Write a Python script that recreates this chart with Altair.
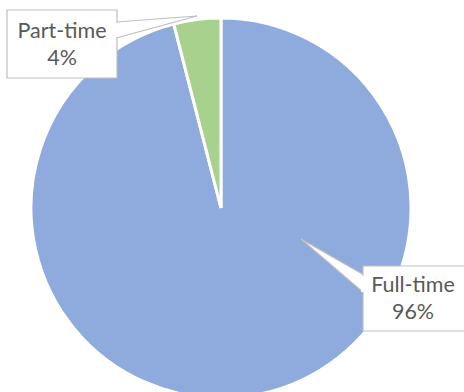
import altair as alt
import pandas as pd

# data
categories = ["Full-time", "Part-time"]
values = [96, 4]
percent_labels = ["96%", "4%"]
colors = ["#8FAADC", "#A9D18E"]

# layout constants (pixels)
W, H = 464, 392
CX, CY, R = 221, 208, 190
boxes = {  # x, x2, y, y2
    "Part-time": (7, 117, 10, 78),
    "Full-time": (363, 470, 266, 331),
}
label_centers = {"Part-time": (62, 45), "Full-time": (413, 299)}
pointers = {  # base x, base y top, base y bottom, tip x, tip y
    "Part-time": (116, 22, 38, 197, 16),
    "Full-time": (364, 275, 293, 301, 239),
}

df = pd.DataFrame({"category": categories, "value": values,
                   "order": list(range(len(categories)))})

xs = alt.Scale(domain=[0, W], range=[0, W])
ys = alt.Scale(domain=[0, H], range=[0, H])

pie = alt.Chart(df).mark_arc(outerRadius=R, stroke="white", strokeWidth=3).encode(
    theta=alt.Theta("value:Q", stack=True),
    color=alt.Color("category:N", scale=alt.Scale(domain=categories, range=colors), legend=None),
    order=alt.Order("order:Q"),
    x=alt.value(CX), y=alt.value(CY),
)

box_rows = []
for c in categories:
    x, x2, y, y2 = boxes[c]
    box_rows.append({"category": c, "x": x, "x2": x2, "y": y, "y2": y2})
box_df = pd.DataFrame(box_rows)

ptr_rows = []
for c in categories:
    bx, by1, by2, tx, ty = pointers[c]
    ptr_rows.append({"category": c, "x": bx, "y": by1, "y2": by2})
    ptr_rows.append({"category": c, "x": tx, "y": ty, "y2": ty})
ptr_df = pd.DataFrame(ptr_rows)

ptr = alt.Chart(ptr_df).mark_area(fill="white", stroke="#BFBFBF", strokeWidth=1.2).encode(
    x=alt.X("x:Q", scale=xs, axis=None),
    y=alt.Y("y:Q", scale=ys, axis=None),
    y2="y2:Q",
    detail="category:N",
)

box = alt.Chart(box_df).mark_rect(fill="white", stroke="#BFBFBF", strokeWidth=1.2).encode(
    x=alt.X("x:Q", scale=xs, axis=None), x2="x2:Q",
    y=alt.Y("y:Q", scale=ys, axis=None), y2="y2:Q",
)

# cover the pointer base lines inside the box edge
ptr_cover_rows = []
for c in categories:
    bx, by1, by2, tx, ty = pointers[c]
    ptr_cover_rows.append({"category": c, "x": bx, "y": by1 + 1, "y2": by2 - 1})
    ptr_cover_rows.append({"category": c, "x": bx + (1 if tx > bx else -1) * 3,
                           "y": by1 + 1, "y2": by2 - 1})
cover = alt.Chart(pd.DataFrame(ptr_cover_rows)).mark_area(fill="white").encode(
    x=alt.X("x:Q", scale=xs, axis=None),
    y=alt.Y("y:Q", scale=ys, axis=None),
    y2="y2:Q",
    detail="category:N",
)

text_rows = []
for c, p in zip(categories, percent_labels):
    lx, ly = label_centers[c]
    text_rows.append({"t": c, "x": lx, "y": ly - 13.5})
    text_rows.append({"t": p, "x": lx, "y": ly + 13.5})
text = alt.Chart(pd.DataFrame(text_rows)).mark_text(
    font="Lato", fontSize=21.5, color="#595959", baseline="middle", align="center"
).encode(
    x=alt.X("x:Q", scale=xs, axis=None),
    y=alt.Y("y:Q", scale=ys, axis=None),
    text="t:N",
)

chart = alt.layer(pie, ptr, box, cover, text).properties(
    width=W, height=H, padding=0, autosize="none"
).configure_view(stroke=None)

chart.save("out.html", embed_options={"renderer": "svg", "actions": False})
